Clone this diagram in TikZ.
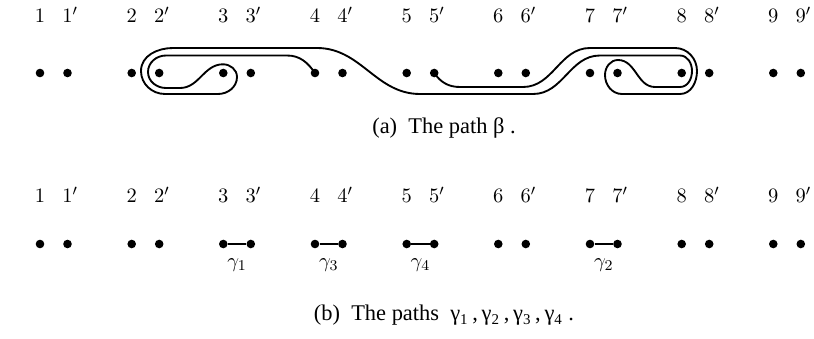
\documentclass[tikz,border=0pt]{standalone}
\usepackage{fontspec}
\newfontfamily\capfont{Liberation Serif}
\usetikzlibrary{positioning}

\begin{document}
\begin{tikzpicture}[
    x=0.535pt, y=0.535pt,
    every node/.style={font=\fontsize{11}{13}\selectfont},
    dot/.style={circle, fill=black, inner sep=0pt, minimum size=4.6pt},
    num/.style={anchor=base, inner sep=0pt},
    seg/.style={line width=1.2pt},
    braid/.style={line width=1pt, line join=round},
    glabel/.style={below=6pt, inner sep=1pt},
    caption/.style={font=\capfont\large, anchor=base}
]
\useasboundingbox (0,0) rectangle (814,339);

% ============ TOP ROW: THE PATH ============
\node[dot] (t1) at (40,266) {};    \node[dot] (t1p) at (67.5,266) {};
\node[dot] (t2) at (131.7,266) {}; \node[dot] (t2p) at (159.2,266) {};
\node[dot] (t3) at (223.3,266) {}; \node[dot] (t3p) at (250.8,266) {};
\node[dot] (t4) at (315,266) {};   \node[dot] (t4p) at (342.5,266) {};
\node[dot] (t5) at (406.7,266) {}; \node[dot] (t5p) at (434.2,266) {};
\node[dot] (t6) at (498.3,266) {}; \node[dot] (t6p) at (525.8,266) {};
\node[dot] (t7) at (590,266) {};   \node[dot] (t7p) at (617.5,266) {};
\node[dot] (t8) at (681.7,266) {}; \node[dot] (t8p) at (709.2,266) {};
\node[dot] (t9) at (773.3,266) {}; \node[dot] (t9p) at (800.8,266) {};

% Point labels
\node[num] (tn1) at (40,316) {$1$};    \node[num] (tn1p) at (67.5,316) {$1\rlap{$'$}$};
\node[num] (tn2) at (131.7,316) {$2$}; \node[num] (tn2p) at (159.2,316) {$2\rlap{$'$}$};
\node[num] (tn3) at (223.3,316) {$3$}; \node[num] (tn3p) at (250.8,316) {$3\rlap{$'$}$};
\node[num] (tn4) at (315,316) {$4$};   \node[num] (tn4p) at (342.5,316) {$4\rlap{$'$}$};
\node[num] (tn5) at (406.7,316) {$5$}; \node[num] (tn5p) at (434.2,316) {$5\rlap{$'$}$};
\node[num] (tn6) at (498.3,316) {$6$}; \node[num] (tn6p) at (525.8,316) {$6\rlap{$'$}$};
\node[num] (tn7) at (590,316) {$7$};   \node[num] (tn7p) at (617.5,316) {$7\rlap{$'$}$};
\node[num] (tn8) at (681.7,316) {$8$}; \node[num] (tn8p) at (709.2,316) {$8\rlap{$'$}$};
\node[num] (tn9) at (773.3,316) {$9$}; \node[num] (tn9p) at (800.8,316) {$9\rlap{$'$}$};

% The path beta, from 4 round 2' and 3, then round 7' and 8, to 5'
\draw[braid] (t4.center)
    to[out=125,in=0] (287,283.5) -- (166,283.5)
    to[out=180,in=90] (148,267) to[out=-90,in=180] (166,251) -- (180,251)
    to[out=0,in=180] (223,274.7) to[out=0,in=90] (237,262)
    to[out=-90,in=0] (218,245) -- (165,245)
    to[out=180,in=-90] (141,268) to[out=90,in=180] (173,291) -- (317,291)
    to[out=0,in=180] (420,245) -- (533,245)
    to[out=0,in=180] (600,283.5) -- (680,283.5)
    to[out=0,in=90] (692,268) to[out=-90,in=0] (680,252) -- (655,252)
    to[out=180,in=0] (618,279) to[out=180,in=90] (605,264)
    to[out=-90,in=180] (622,245) -- (680,245)
    to[out=0,in=-90] (697,268) to[out=90,in=0] (675,291) -- (590,291)
    to[out=180,in=0] (523,252) -- (460,252)
    to[out=180,in=-55] (t5p.center);

\node[caption] (capa) at (444,205) {(a)\ \ The path β\ .};

% ============ BOTTOM ROW: THE PATHS GAMMA ============
\node[dot] (b1) at (40,95) {};    \node[dot] (b1p) at (67.5,95) {};
\node[dot] (b2) at (131.7,95) {}; \node[dot] (b2p) at (159.2,95) {};
\node[dot] (b3) at (223.3,95) {}; \node[dot] (b3p) at (250.8,95) {};
\node[dot] (b4) at (315,95) {};   \node[dot] (b4p) at (342.5,95) {};
\node[dot] (b5) at (406.7,95) {}; \node[dot] (b5p) at (434.2,95) {};
\node[dot] (b6) at (498.3,95) {}; \node[dot] (b6p) at (525.8,95) {};
\node[dot] (b7) at (590,95) {};   \node[dot] (b7p) at (617.5,95) {};
\node[dot] (b8) at (681.7,95) {}; \node[dot] (b8p) at (709.2,95) {};
\node[dot] (b9) at (773.3,95) {}; \node[dot] (b9p) at (800.8,95) {};

% Point labels
\node[num] (bn1) at (40,136) {$1$};    \node[num] (bn1p) at (67.5,136) {$1\rlap{$'$}$};
\node[num] (bn2) at (131.7,136) {$2$}; \node[num] (bn2p) at (159.2,136) {$2\rlap{$'$}$};
\node[num] (bn3) at (223.3,136) {$3$}; \node[num] (bn3p) at (250.8,136) {$3\rlap{$'$}$};
\node[num] (bn4) at (315,136) {$4$};   \node[num] (bn4p) at (342.5,136) {$4\rlap{$'$}$};
\node[num] (bn5) at (406.7,136) {$5$}; \node[num] (bn5p) at (434.2,136) {$5\rlap{$'$}$};
\node[num] (bn6) at (498.3,136) {$6$}; \node[num] (bn6p) at (525.8,136) {$6\rlap{$'$}$};
\node[num] (bn7) at (590,136) {$7$};   \node[num] (bn7p) at (617.5,136) {$7\rlap{$'$}$};
\node[num] (bn8) at (681.7,136) {$8$}; \node[num] (bn8p) at (709.2,136) {$8\rlap{$'$}$};
\node[num] (bn9) at (773.3,136) {$9$}; \node[num] (bn9p) at (800.8,136) {$9\rlap{$'$}$};

% Short paths
\draw[seg] (b3) -- node[glabel] (g1) {$\gamma_1$} (b3p);
\draw[seg] (b4) -- node[glabel] (g3) {$\gamma_3$} (b4p);
\draw[seg] (b5) -- node[glabel] (g4) {$\gamma_4$} (b5p);
\draw[seg] (b7) -- node[glabel] (g2) {$\gamma_2$} (b7p);

\node[caption] (capb) at (444,18) {(b)\ \ The paths\ \ γ\textsubscript{1}\,,\,γ\textsubscript{2}\,,\,γ\textsubscript{3}\,,\,γ\textsubscript{4}\ .};

\end{tikzpicture}
\end{document}
